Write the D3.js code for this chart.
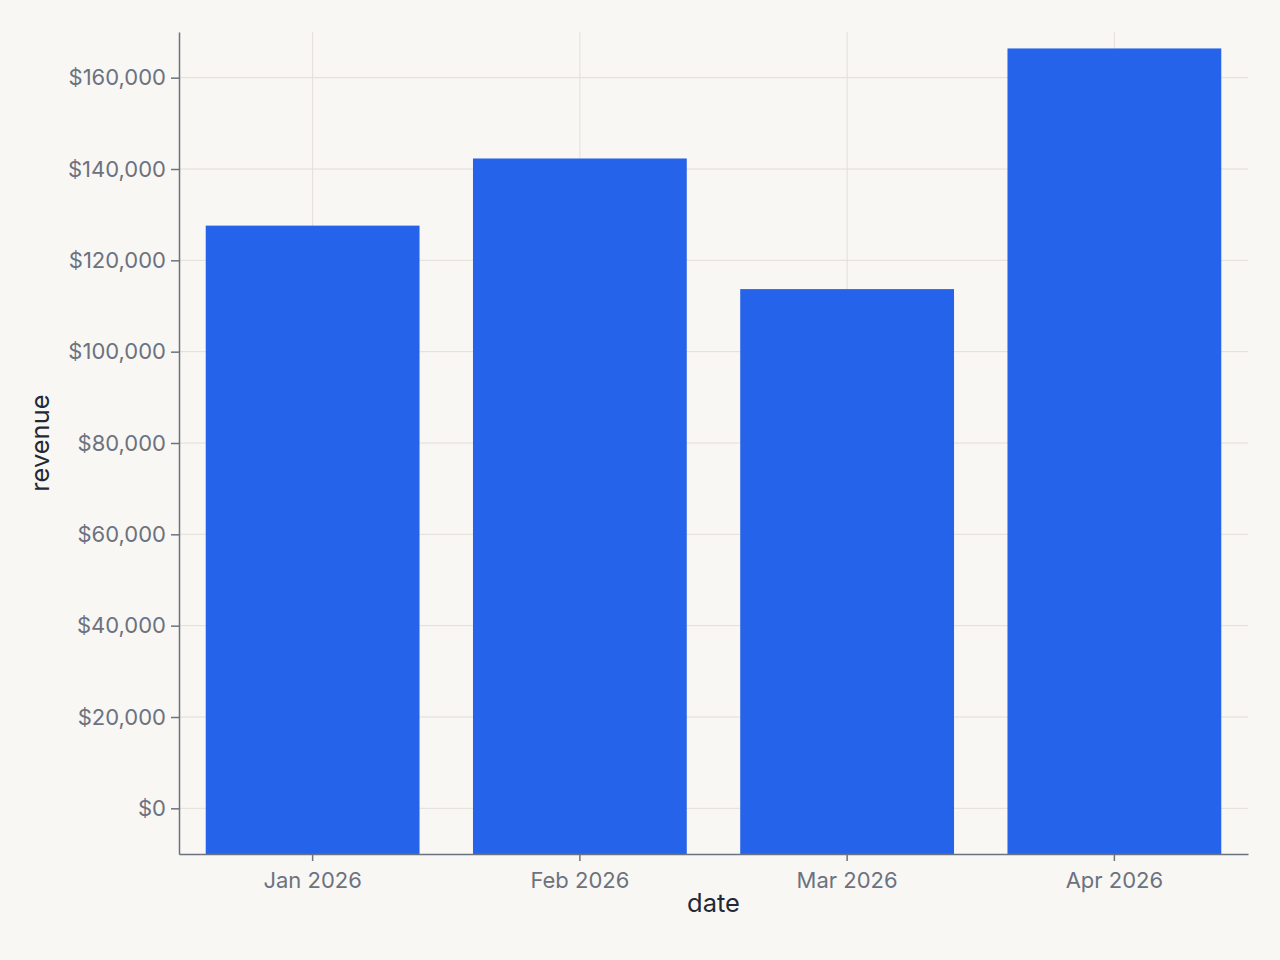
<!DOCTYPE html>
<html>
<head>
<meta charset="utf-8">
<script src="https://cdn.jsdelivr.net/npm/d3@7"></script>
<style>
  html, body { margin: 0; padding: 0; background: #f9f7f3; }
  svg { display: block; font-family: Inter, "Noto Sans", sans-serif; }
</style>
</head>
<body>
<svg id="chart" width="1280" height="960"></svg>
<script>
const categories = ["Jan 2026", "Feb 2026", "Mar 2026", "Apr 2026"];
const revenue = [127600, 142300, 113700, 166400];
const yTicks = [0, 20000, 40000, 60000, 80000, 100000, 120000, 140000, 160000];
const yDomain = [-10000, 170000];
const xTitle = "date";
const yTitle = "revenue";

const W = 1280, H = 960;
const margin = { left: 179, right: 32, top: 32, bottom: 106 };
const svg = d3.select("#chart");
svg.append("rect").attr("width", W).attr("height", H).attr("fill", "#f9f7f3");

const x = d3.scaleBand().domain(categories)
  .range([margin.left, W - margin.right]).paddingInner(0.2).paddingOuter(0.1);
const y = d3.scaleLinear().domain(yDomain).range([H - margin.bottom, margin.top]);

const gridColor = "#e2ded8";
// horizontal grid
svg.append("g").selectAll("line").data(yTicks).join("line")
  .attr("x1", margin.left).attr("x2", W - margin.right)
  .attr("y1", d => y(d)).attr("y2", d => y(d))
  .attr("stroke", gridColor).attr("stroke-width", 1);
// vertical grid
svg.append("g").selectAll("line").data(categories).join("line")
  .attr("x1", d => x(d) + x.bandwidth() / 2).attr("x2", d => x(d) + x.bandwidth() / 2)
  .attr("y1", margin.top).attr("y2", H - margin.bottom)
  .attr("stroke", gridColor).attr("stroke-width", 1);

// bars
svg.append("g").selectAll("rect").data(categories).join("rect")
  .attr("x", d => x(d))
  .attr("width", x.bandwidth())
  .attr("y", (d, i) => y(revenue[i]))
  .attr("height", (d, i) => y.range()[0] - y(revenue[i]))
  .attr("fill", "#2563eb");

const axisColor = "#6b7280";
const fmt = d3.format("$,.0f");

const yAxis = svg.append("g")
  .attr("transform", `translate(${margin.left},0)`)
  .call(d3.axisLeft(y).tickValues(yTicks).tickFormat(fmt).tickSize(8).tickPadding(5).tickSizeOuter(0));
const xAxis = svg.append("g")
  .attr("transform", `translate(0,${H - margin.bottom})`)
  .call(d3.axisBottom(x).tickSize(7).tickPadding(11).tickSizeOuter(0));

[yAxis, xAxis].forEach(g => {
  g.select(".domain").attr("stroke", axisColor).attr("stroke-width", 1.5);
  g.selectAll(".tick line").attr("stroke", axisColor).attr("stroke-width", 1.5);
  g.selectAll(".tick text").attr("fill", axisColor)
    .style("font-family", "Inter, sans-serif").style("font-size", "22px");
});

svg.append("text")
  .attr("x", (margin.left + W - margin.right) / 2)
  .attr("y", 912)
  .attr("text-anchor", "middle")
  .attr("fill", "#1f2937")
  .style("font-size", "25.5px")
  .text(xTitle);

svg.append("text")
  .attr("transform", `translate(48.5,${(margin.top + H - margin.bottom) / 2}) rotate(-90)`)
  .attr("text-anchor", "middle")
  .attr("fill", "#1f2937")
  .style("font-size", "25.5px")
  .text(yTitle);
</script>
</body>
</html>
